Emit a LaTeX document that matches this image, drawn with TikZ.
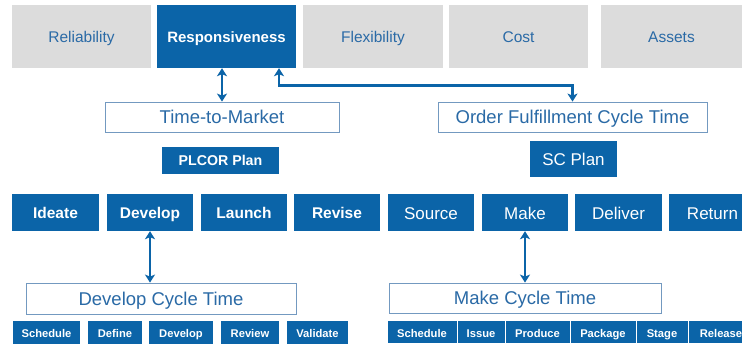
\documentclass[tikz,border=0pt]{standalone}
\usepackage{fontspec}
\setmainfont{Liberation Sans}
\usetikzlibrary{arrows.meta}

\definecolor{scblue}{HTML}{0B64A8}
\definecolor{scgray}{HTML}{DCDCDC}
\definecolor{sctext}{HTML}{2A6AA6}
\definecolor{scline}{HTML}{7399C0}

\begin{document}
\begin{tikzpicture}[x=1pt,y=-1pt,
	metric/.style={fill=scgray,text=sctext,inner sep=0pt,minimum height=63pt,text height=12pt,text depth=0pt,font=\fontsize{15.5}{18}\selectfont},
	keymetric/.style={metric,fill=scblue,text=white,font=\fontsize{15}{18}\selectfont\bfseries},
	cycle/.style={draw=scline,line width=0.8pt,fill=white,text=sctext,inner sep=0pt,minimum height=30pt,text height=13.5pt,text depth=0pt,font=\fontsize{18.5}{22}\selectfont},
	plan/.style={fill=scblue,text=white,inner sep=0pt,minimum height=37pt,text height=12.5pt,text depth=0pt,font=\fontsize{15.5}{18}\selectfont\bfseries},
	scplan/.style={plan,text height=14pt,font=\fontsize{17}{20}\selectfont},
	task/.style={fill=scblue,text=white,inner sep=0pt,minimum height=23pt,text height=10.5pt,text depth=0pt,font=\fontsize{11.2}{13}\selectfont\bfseries},
	subtask/.style={task,draw=white,line width=1pt},
	>={Stealth[length=8pt,width=10pt,inset=2pt]},
	every edge/.style={draw=scblue,line width=2.7pt}]
	\useasboundingbox (0,0) rectangle (742,347);

	% performance attributes
	\node[metric,minimum width=139pt] (reli) at (81.5,36.5) {Reliability};
	\node[keymetric,minimum width=139pt] (resp) at (226.5,36.5) {Responsiveness};
	\node[metric,minimum width=140pt] (flex) at (373,36.5) {Flexibility};
	\node[metric,minimum width=139pt] (cost) at (518.5,36.5) {Cost};
	\node[metric,minimum width=141pt] (assets) at (671.5,36.5) {Assets};

	% cycle times
	\node[cycle,minimum width=234pt] (ttm) at (222,117) {Time-to-Market};
	\node[cycle,minimum width=269pt] (ofct) at (572.5,117) {Order Fulfillment Cycle Time};

	\node[plan,minimum width=117pt,minimum height=27pt,text height=11pt,font=\fontsize{14.2}{17}\selectfont\bfseries] (plcor) at (220.5,160.5) {PLCOR Plan};
	\node[scplan,minimum width=87pt,minimum height=36pt] (scp) at (573.5,159) {SC Plan};

	% PLCOR processes
	\node[plan,minimum width=87pt] (ideate) at (55.5,212.5) {Ideate};
	\node[plan,minimum width=86pt] (dev) at (150,212.5) {Develop};
	\node[plan,minimum width=86pt] (launch) at (244,212.5) {Launch};
	\node[plan,minimum width=86pt] (revise) at (337,212.5) {Revise};

	% SCOR processes
	\node[scplan,minimum width=86pt] (source) at (431,212.5) {Source};
	\node[scplan,minimum width=86pt] (make) at (525,212.5) {Make};
	\node[scplan,minimum width=87pt] (deliver) at (618.5,212.5) {Deliver};
	\node[scplan,minimum width=87pt] (return) at (712.5,212.5) {Return};

	\node[cycle,minimum width=270pt,minimum height=31pt] (dct) at (161,298.5) {Develop Cycle Time};
	\node[cycle,minimum width=272pt] (mct) at (525,298) {Make Cycle Time};

	% develop steps
	\node[task,minimum width=67pt] (d1) at (46.5,332.5) {Schedule};
	\node[task,minimum width=54pt] (d2) at (115,332.5) {Define};
	\node[task,minimum width=64pt] (d3) at (181,332.5) {Develop};
	\node[task,minimum width=58pt] (d4) at (250,332.5) {Review};
	\node[task,minimum width=61pt] (d5) at (317.5,332.5) {Validate};

	% make steps
	\node[subtask,minimum width=70pt] (m1) at (422,332.5) {Schedule};
	\node[subtask,minimum width=48pt] (m2) at (481,332.5) {Issue};
	\node[subtask,minimum width=65pt] (m3) at (537.5,332.5) {Produce};
	\node[subtask,minimum width=66pt] (m4) at (603,332.5) {Package};
	\node[subtask,minimum width=52pt] (m5) at (662,332.5) {Stage};
	\node[subtask,minimum width=66pt] (m6) at (721,332.5) {Release};

	\path [<->] (ttm.north |- resp.south) edge (ttm.north);
	\draw [<->,draw=scblue,line width=2.7pt] ([xshift=52.5pt]resp.south) |- ++(0,17) -| (ofct.north);
	\path [<->] (dev.south) edge (dev.south |- dct.north);
	\path [<->] (make.south) edge (mct.north);
\end{tikzpicture}
\end{document}
